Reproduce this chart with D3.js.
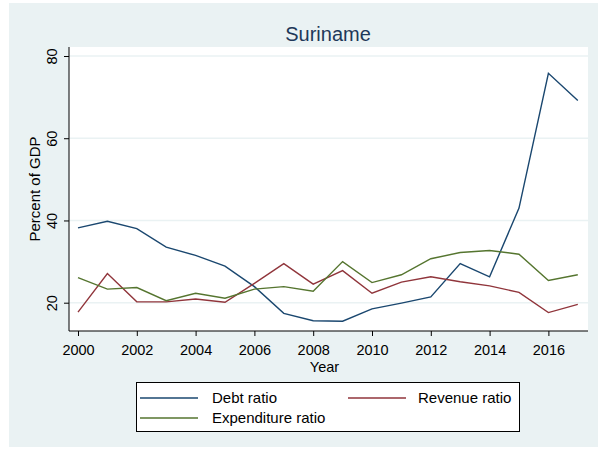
<!DOCTYPE html>
<html>
<head>
<meta charset="utf-8">
<script src="https://cdn.jsdelivr.net/npm/d3@7"></script>
<style>
  body { margin: 0; background: #fff; }
  text { font-family: "Liberation Sans", Arial, sans-serif; }
</style>
</head>
<body>
<div id="viz"></div>
<script>
var years = d3.range(2000, 2018);
var debt = [38.2, 39.8, 38.0, 33.5, 31.5, 28.9, 23.9, 17.4, 15.6, 15.5, 18.5, 19.9, 21.4, 29.5, 26.3, 43.0, 75.8, 69.2];
var revenue = [17.7, 27.1, 20.2, 20.2, 20.9, 20.1, 24.7, 29.5, 24.5, 27.8, 22.3, 25.0, 26.3, 25.1, 24.1, 22.5, 17.6, 19.6];
var expenditure = [26.1, 23.3, 23.7, 20.5, 22.3, 21.1, 23.3, 23.9, 22.8, 30.0, 24.9, 26.8, 30.7, 32.2, 32.7, 31.8, 25.4, 26.8];
var yTicks = [20, 40, 60, 80];
var xTicks = [2000, 2002, 2004, 2006, 2008, 2010, 2012, 2014, 2016];

var series = [
  {name: 'Debt ratio', values: debt, color: '#1a476f'},
  {name: 'Revenue ratio', values: revenue, color: '#90353b'},
  {name: 'Expenditure ratio', values: expenditure, color: '#55752f'}
];

var width = 605, height = 452;
var plotLeft = 69, plotRight = 588, plotTop = 47, plotBottom = 331;

var x = d3.scaleLinear().domain([2000, 2017]).range([78, 577.8]);
var y = d3.scaleLinear().domain([20, 80]).range([302.7, 56]);

var svg = d3.select('#viz').append('svg')
  .attr('width', width)
  .attr('height', height);

// outer background
svg.append('rect')
  .attr('x', 9).attr('y', 3)
  .attr('width', 589).attr('height', 444)
  .style('fill', '#eaf2f3');

// plot region
svg.append('rect')
  .attr('x', plotLeft).attr('y', plotTop)
  .attr('width', plotRight - plotLeft).attr('height', plotBottom - plotTop)
  .style('fill', '#fff');

// grid
svg.selectAll('.grid').data(yTicks)
  .enter().append('line')
    .attr('x1', plotLeft).attr('x2', plotRight)
    .attr('y1', function(d) { return y(d); })
    .attr('y2', function(d) { return y(d); })
    .style('stroke', '#eaf2f3')
    .style('stroke-width', 1.5);

// lines
var line = d3.line()
  .x(function(d, i) { return x(years[i]); })
  .y(function(d) { return y(d); });

svg.selectAll('.series').data(series)
  .enter().append('path')
    .attr('d', function(d) { return line(d.values); })
    .style('fill', 'none')
    .style('stroke', function(d) { return d.color; })
    .style('stroke-width', 1.4);

// y axis
var yAxis = svg.append('g')
  .attr('transform', 'translate(' + plotLeft + ',0)')
  .call(d3.axisLeft(y).tickValues(yTicks).tickSize(5).tickSizeOuter(0));
yAxis.select('.domain').remove();
yAxis.append('line')
  .attr('x1', 0).attr('x2', 0)
  .attr('y1', plotTop).attr('y2', plotBottom)
  .style('stroke', '#000');
yAxis.selectAll('text')
  .attr('x', null).attr('dy', null)
  .attr('transform', 'translate(-12,0) rotate(-90)')
  .style('text-anchor', 'middle')
  .style('font-size', '14.5px')
  .style('fill', '#000');

// x axis
var xAxis = svg.append('g')
  .attr('transform', 'translate(0,' + plotBottom + ')')
  .call(d3.axisBottom(x).tickValues(xTicks).tickFormat(d3.format('d')).tickSize(5).tickSizeOuter(0));
xAxis.select('.domain').remove();
xAxis.append('line')
  .attr('x1', plotLeft).attr('x2', plotRight)
  .attr('y1', 0).attr('y2', 0)
  .style('stroke', '#000');
xAxis.selectAll('text')
  .attr('y', 13.5)
  .style('font-size', '14.5px')
  .style('fill', '#000');

// axis titles
svg.append('text')
  .attr('x', (plotLeft + plotRight) / 2 - 4).attr('y', 372)
  .style('text-anchor', 'middle')
  .style('font-size', '14.5px')
  .text('Year');

svg.append('text')
  .attr('transform', 'translate(40,' + 189 + ') rotate(-90)')
  .style('text-anchor', 'middle')
  .style('font-size', '15px')
  .text('Percent of GDP');

// title
svg.append('text')
  .attr('x', 328).attr('y', 40.5)
  .style('text-anchor', 'middle')
  .style('font-size', '20px')
  .style('fill', '#1e3859')
  .text('Suriname');

// legend
svg.append('rect')
  .attr('x', 136.5).attr('y', 382.5)
  .attr('width', 383).attr('height', 49)
  .style('fill', '#fff')
  .style('stroke', '#000');

var legPos = [{lx: 140, ly: 398, tx: 212}, {lx: 348, ly: 398, tx: 418}, {lx: 140, ly: 418, tx: 212}];

var leg = svg.selectAll('.leg').data(series)
  .enter().append('g');
leg.append('line')
  .attr('x1', function(d, i) { return legPos[i].lx; })
  .attr('x2', function(d, i) { return legPos[i].lx + 58; })
  .attr('y1', function(d, i) { return legPos[i].ly; })
  .attr('y2', function(d, i) { return legPos[i].ly; })
  .style('stroke', function(d) { return d.color; })
  .style('stroke-width', 1.4);
leg.append('text')
  .attr('x', function(d, i) { return legPos[i].tx; })
  .attr('y', function(d, i) { return legPos[i].ly + 5; })
  .style('font-size', '15px')
  .text(function(d) { return d.name; });
</script>
</body>
</html>
